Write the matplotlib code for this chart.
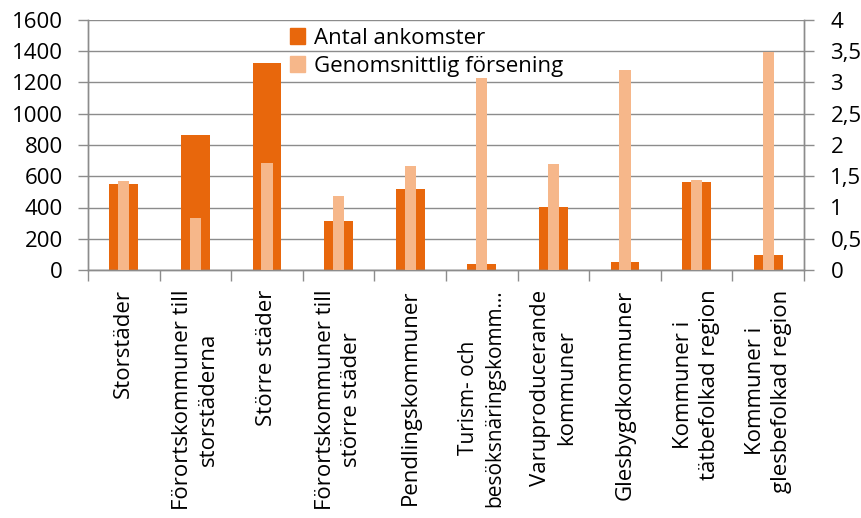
import matplotlib
matplotlib.use("Agg")
import matplotlib.pyplot as plt
from matplotlib.patches import Patch
import numpy as np

# Data
categories = [
    "Storstäder",
    "Förortskommuner till\nstorstäderna",
    "Större städer",
    "Förortskommuner till\nstörre städer",
    "Pendlingskommuner",
    "Turism- och\nbesöksnäringskomm…",
    "Varuproducerande\nkommuner",
    "Glesbygdkommuner",
    "Kommuner i\ntätbefolkad region",
    "Kommuner i\nglesbefolkad region",
]
arrivals = [548, 866, 1327, 311, 516, 38, 406, 52, 565, 93]
avg_delay = [1.42, 0.84, 1.72, 1.19, 1.67, 3.07, 1.69, 3.20, 1.44, 3.49]

left_ticks = [0, 200, 400, 600, 800, 1000, 1200, 1400, 1600]
right_ticks = [0, 0.5, 1, 1.5, 2, 2.5, 3, 3.5, 4]
right_tick_labels = ["0", "0,5", "1", "1,5", "2", "2,5", "3", "3,5", "4"]

dark = "#E8670C"
light = "#F6B78A"
grey = "#8C8C8C"
fs = 16

plt.rcParams["font.family"] = ["Open Sans", "DejaVu Sans"]

W, H = 862, 518
fig = plt.figure(figsize=(W / 100, H / 100), dpi=100)
x0, x1, y0, y1 = 88, 804, 20, 270
ax = fig.add_axes([x0 / W, 1 - y1 / H, (x1 - x0) / W, (y1 - y0) / H])
ax2 = ax.twinx()

x = np.arange(len(categories))
ax.bar(x, arrivals, width=0.405, color=dark, zorder=2)
ax2.bar(x, avg_delay, width=0.155, color=light, zorder=3)

ax.set_xlim(-0.5, len(categories) - 0.5)
ax.set_ylim(0, 1600)
ax2.set_ylim(0, 4)
ax.set_yticks(left_ticks)
ax.set_yticklabels([str(v) for v in left_ticks], fontsize=fs)
ax2.set_yticks(right_ticks)
ax2.set_yticklabels(right_tick_labels, fontsize=fs)

ax.set_axisbelow(True)
ax.yaxis.grid(True, color=grey, linewidth=1.0)

ax.set_xticks(x)
ax.set_xticklabels(categories, rotation=90, fontsize=fs, ha="center",
                   va="top", multialignment="center", linespacing=1.3)
# the long two-line label is set a little smaller so it stays inside
ax.get_xticklabels()[5].set_fontsize(15)
ax.set_xticks(np.arange(-0.5, len(categories)), minor=True)
ax.tick_params(axis="x", which="major", length=0, pad=14)
ax.tick_params(axis="x", which="minor", length=8, color=grey, width=1)
ax.tick_params(axis="y", length=7, color=grey, width=1, pad=11)
ax2.tick_params(axis="y", length=7, color=grey, width=1, pad=12)

for a in (ax, ax2):
    a.spines["top"].set_visible(False)
    for s in ("left", "right", "bottom"):
        a.spines[s].set_color(grey)
        a.spines[s].set_linewidth(1.0)

handles = [Patch(color=dark, label="Antal ankomster"),
           Patch(color=light, label="Genomsnittlig försening")]
fig.legend(handles=handles, loc="upper left",
           bbox_to_anchor=(281 / W, 1 - 19 / H), frameon=False,
           fontsize=fs, handlelength=0.7, handleheight=0.7,
           handletextpad=0.4, labelspacing=0.3, borderaxespad=0)

fig.savefig("out.png", dpi=100)
